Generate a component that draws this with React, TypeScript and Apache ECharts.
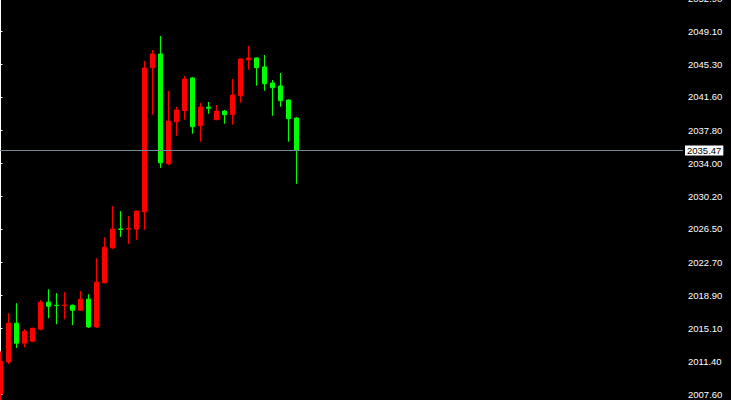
import React, { useEffect, useRef } from "react";
import * as echarts from "echarts";

// Candle values (oldest to newest)
const opens = [
  2007.64, 2011.30, 2015.72, 2013.44, 2013.67, 2015.04, 2018.13, 2017.78, 2017.76, 2017.78,
  2017.21, 2018.47, 2015.30, 2020.34, 2024.34, 2026.50, 2026.48, 2026.48, 2028.46, 2044.94,
  2046.50, 2033.95, 2038.76, 2040.02, 2043.76, 2038.30, 2040.42, 2038.99, 2039.98, 2039.56,
  2041.73, 2045.82, 2046.05, 2045.02, 2043.18, 2042.84, 2041.24, 2039.18,
];
const closes = [
  2011.38, 2015.72, 2013.44, 2014.81, 2015.15, 2018.13, 2017.67, 2017.74, 2017.80, 2017.21,
  2018.47, 2015.30, 2020.42, 2024.42, 2026.48, 2026.44, 2026.55, 2028.54, 2044.90, 2046.50,
  2034.07, 2038.84, 2040.10, 2043.64, 2038.18, 2040.44, 2040.30, 2039.98, 2039.56, 2041.81,
  2045.93, 2046.05, 2044.94, 2043.10, 2042.65, 2041.16, 2039.10, 2035.47,
];
const lows = [
  2006.00, 2011.07, 2012.90, 2012.98, 2013.55, 2014.92, 2016.30, 2015.61, 2016.18, 2015.50,
  2017.15, 2015.19, 2015.19, 2020.30, 2024.23, 2025.60, 2024.80, 2025.26, 2026.40, 2039.56,
  2033.49, 2033.80, 2037.15, 2038.99, 2037.38, 2036.47, 2039.67, 2038.95, 2038.53, 2038.41,
  2040.93, 2044.71, 2042.88, 2042.30, 2039.44, 2040.47, 2036.47, 2031.66,
];
const highs = [
  2012.52, 2016.87, 2018.01, 2015.04, 2015.22, 2018.36, 2019.61, 2019.16, 2019.27, 2017.85,
  2019.39, 2019.04, 2023.16, 2025.56, 2029.11, 2028.54, 2027.97, 2028.60, 2045.70, 2046.96,
  2048.56, 2042.27, 2040.44, 2043.99, 2043.87, 2040.90, 2041.01, 2040.67, 2040.10, 2043.64,
  2046.00, 2047.42, 2046.10, 2046.39, 2043.53, 2044.33, 2041.30, 2039.29,
];

const yTicks = [
  2007.6, 2011.4, 2015.1, 2018.9, 2022.7, 2026.5, 2030.2, 2034.0, 2037.8, 2041.6, 2045.3,
  2049.1, 2052.9,
];
const currentPrice = 2035.47;

export default function App() {
  const ref = useRef<HTMLDivElement>(null);

  useEffect(() => {
    if (!ref.current) return;
    const chart = echarts.init(ref.current, undefined, { renderer: "svg" });
    const data = opens.map((o, i) => [i, o, closes[i], lows[i], highs[i]]);

    chart.setOption({
      animation: false,
      backgroundColor: "#000000",
      grid: {
        left: 0,
        right: 48,
        top: -2,
        bottom: 0,
        containLabel: false,
        outerBoundsMode: "none",
      },
      xAxis: {
        type: "value",
        min: -0.0625,
        max: 85.3125,
        show: false,
        splitLine: { show: false },
      },
      yAxis: {
        type: "value",
        position: "right",
        min: 2006.95,
        max: 2052.9,
        scale: true,
        splitLine: { show: false },
        axisLine: { show: true, lineStyle: { color: "#ffffff", width: 1 } },
        axisTick: {
          show: true,
          length: 2,
          lineStyle: { color: "#ffffff" },
          customValues: yTicks,
        },
        axisLabel: {
          show: true,
          margin: 5,
          color: "#ffffff",
          fontFamily: "Liberation Sans",
          fontSize: 9.5,
          customValues: yTicks,
          formatter: (v: number) => v.toFixed(2),
        },
      },
      series: [
        {
          type: "candlestick",
          data,
          barWidth: 4,
          itemStyle: {
            color: "#ff0000",
            color0: "#00ff00",
            borderColor: "#ff0000",
            borderColor0: "#00ff00",
            borderWidth: 1,
          },
          markLine: {
            silent: true,
            symbol: ["none", "none"],
            data: [{ yAxis: currentPrice }],
            lineStyle: { color: "#778899", width: 1, type: "solid" },
            label: {
              show: true,
              position: "end",
              distance: 2,
              formatter: () => currentPrice.toFixed(2),
              backgroundColor: "#ffffff",
              color: "#000000",
              fontFamily: "Liberation Sans",
              fontSize: 9.5,
              lineHeight: 10,
              padding: [0, 2, 0, 2],
            },
          },
        },
      ],
    });

    return () => chart.dispose();
  }, []);

  return (
    <div
      ref={ref}
      style={{ position: "fixed", left: 0, top: 0, width: 731, height: 400, background: "#000" }}
    />
  );
}
